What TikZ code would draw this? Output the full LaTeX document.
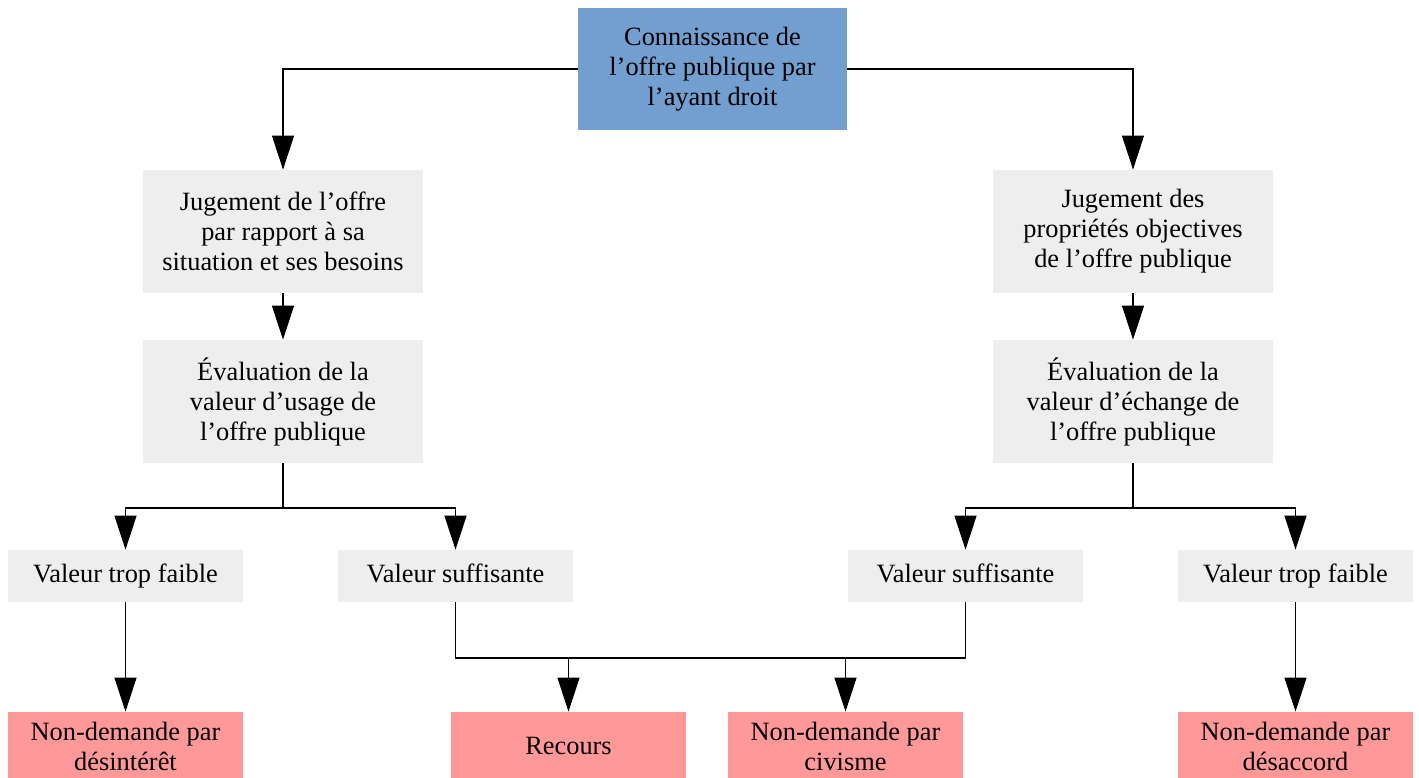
\documentclass[tikz,border=0pt]{standalone}
\usepackage{fontspec}
\setmainfont{Liberation Serif}
\usetikzlibrary{positioning, arrows.meta}

\definecolor{knowblue}{HTML}{729FCF}
\definecolor{boxgray}{HTML}{EEEEEE}
\definecolor{resultpink}{HTML}{FF9999}

\begin{document}
\begin{tikzpicture}[x=0.5pt, y=-0.5pt,
    box/.style={fill=boxgray, align=center, inner sep=0pt, font=\fontsize{13.2}{15}\selectfont},
    bigbox/.style={box, minimum width=140pt, minimum height=61.5pt},
    smallbox/.style={box, minimum width=117.5pt, minimum height=26pt},
    valbox/.style={smallbox, text height=9.3pt, text depth=2.9pt},
    resultbox/.style={smallbox, fill=resultpink, minimum height=34pt},
    arrow/.style={-{Triangle[length=17pt, width=11pt]}, line width=0.6pt}]

    \useasboundingbox (0,0) rectangle (1419,777);

    % Draw boxes
    \node[bigbox, fill=knowblue, minimum width=134.5pt, minimum height=61pt] (know) at (712.5,69) {Connaissance de\\l’offre publique par\\l’ayant droit};
    \node[bigbox] (jugU) at (283,231.5) {Jugement de l’offre\\par rapport à sa\\situation et ses besoins};
    \node[bigbox] (evalU) at (283,401.5) {Évaluation de la\\valeur d’usage de\\l’offre publique};
    \node[bigbox] (jugE) at (1133,231.5) {Jugement des\\propriétés objectives\\de l’offre publique};
    \node[bigbox] (evalE) at (1133,401.5) {Évaluation de la\\valeur d’échange de\\l’offre publique};

    \node[valbox] (faibleU) at (125.5,576) {Valeur trop faible};
    \node[valbox] (suffU) at (455.5,576) {Valeur suffisante};
    \node[valbox] (suffE) at (965.5,576) {Valeur suffisante};
    \node[valbox] (faibleE) at (1295.5,576) {Valeur trop faible};

    \node[resultbox] (desint) at (125.5,746) {Non-demande par\\désintérêt};
    \node[resultbox] (recours) at (568.5,746) {Recours};
    \node[resultbox] (civisme) at (845.5,746) {Non-demande par\\civisme};
    \node[resultbox] (desacc) at (1295.5,746) {Non-demande par\\désaccord};

    % Split and join points
    \coordinate (splitU) at (283,508);
    \coordinate (splitE) at (1133,508);
    \coordinate (joinU) at (455.5,658);
    \coordinate (joinE) at (965.5,658);

    % Draw arrows
    \draw[arrow] (know.west) -| (jugU.north);
    \draw[arrow] (know.east) -| (jugE.north);
    \draw[arrow] (jugU) -- (evalU);
    \draw[arrow] (jugE) -- (evalE);

    \draw[line width=0.6pt] (evalU.south) -- (splitU);
    \draw[line width=0.6pt] (evalE.south) -- (splitE);
    \foreach \s/\t in {splitU/faibleU, splitU/suffU, splitE/suffE, splitE/faibleE} {
      \draw[arrow] (\s) -| (\t.north);
    }

    \draw[arrow] (faibleU) -- (desint);
    \draw[arrow] (faibleE) -- (desacc);
    \draw[line width=0.6pt] (suffU.south) -- (joinU) -- (joinE) -- (suffE.south);
    \foreach \t in {recours, civisme} {
      \draw[arrow] (\t.north |- joinU) -- (\t.north);
    }

\end{tikzpicture}
\end{document}
